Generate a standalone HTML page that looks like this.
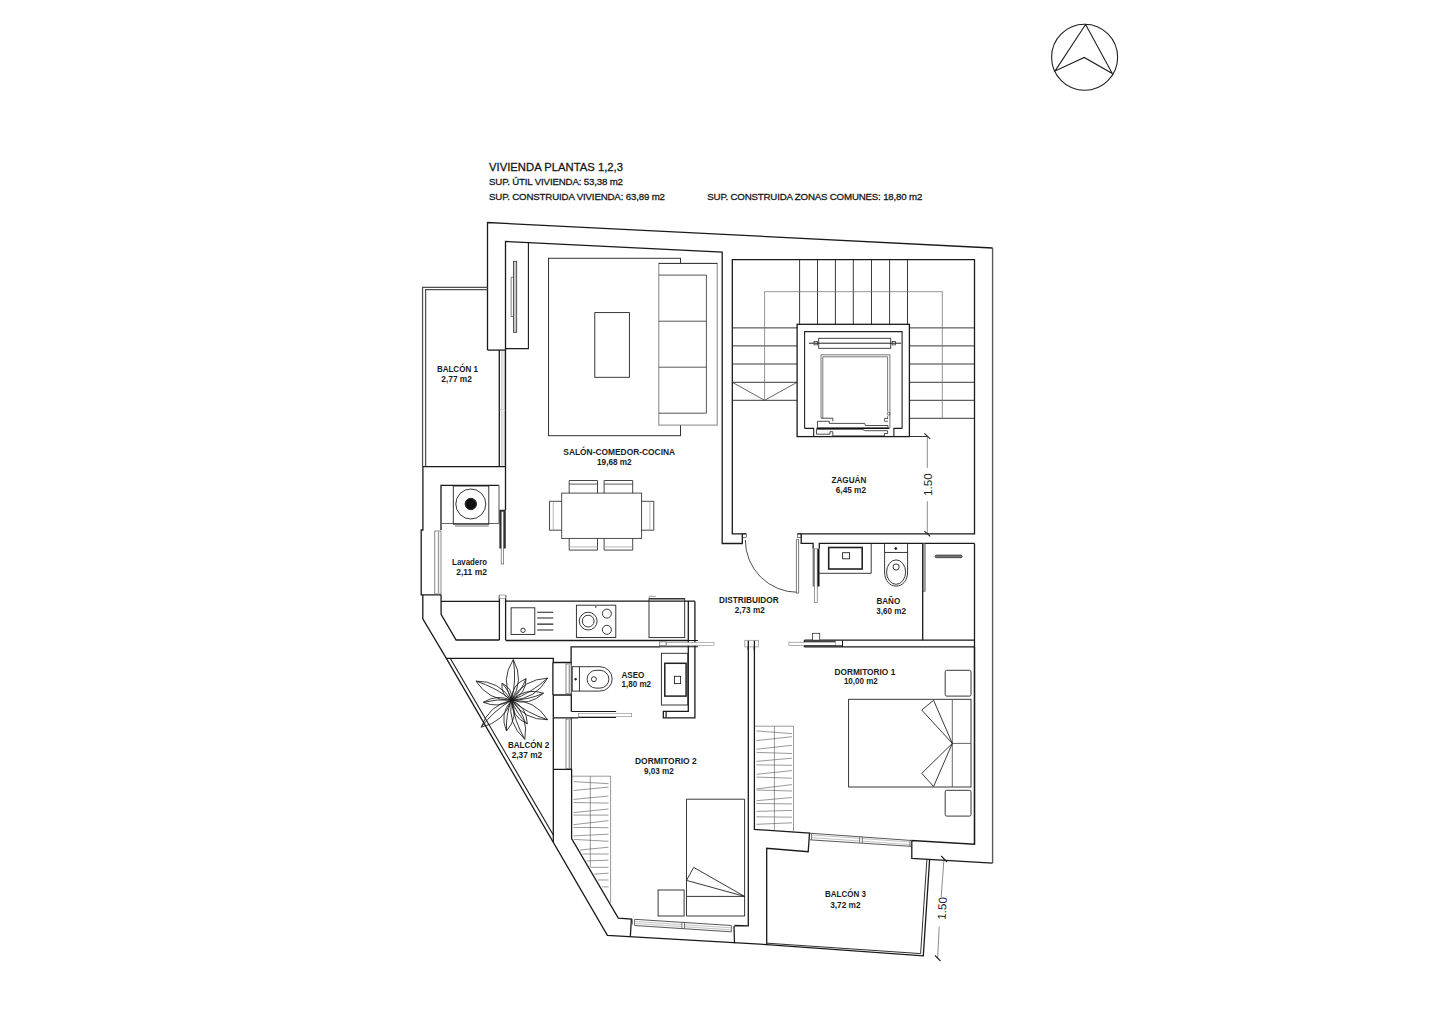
<!DOCTYPE html>
<html><head><meta charset="utf-8">
<style>
html,body{margin:0;padding:0;background:#fff;width:1440px;height:1024px;overflow:hidden}
svg{display:block}
text{font-family:"Liberation Sans",sans-serif;fill:#1b1b1b}
</style></head>
<body>
<svg width="1440" height="1024" viewBox="0 0 1440 1024">
<rect width="1440" height="1024" fill="#fff"/>

<!-- North arrow -->
<g fill="none" stroke="#1e1e1e" stroke-width="1.1">
<circle cx="1084.6" cy="57.3" r="33"/>
<path d="M1055.1,70.9 L1085.6,24.5 L1112.3,73.6 L1084.2,57.4 Z" stroke-linejoin="miter"/>
</g>

<!-- Title -->
<g stroke="#111" stroke-width="0.28" fill="#111">
<text x="489" y="170.6" font-size="11.4" textLength="134" lengthAdjust="spacingAndGlyphs">VIVIENDA PLANTAS 1,2,3</text>
<text x="489" y="185.2" font-size="9.7" textLength="134" lengthAdjust="spacing">SUP. ÚTIL VIVIENDA: 53,38 m2</text>
<text x="489" y="199.7" font-size="9.7" textLength="176" lengthAdjust="spacing">SUP. CONSTRUIDA VIVIENDA: 63,89 m2</text>
<text x="707.3" y="199.7" font-size="9.7" textLength="215" lengthAdjust="spacing">SUP. CONSTRUIDA ZONAS COMUNES: 18,80 m2</text>
</g>

<!-- WALLS -->
<g id="walls" fill="none" stroke="#1a1a1a" stroke-width="1.3" stroke-linejoin="miter">
<!-- outer top and right -->
<path d="M487.5,350.1 V222.5 L992.6,248"/>
<path d="M992.6,248 V863.1" stroke="#5c5c5c" stroke-width="1.4"/>
<path d="M992.6,863.1 L911.8,858.3 V840.5 L974.5,844.2 V543.4"/>
<!-- living inner top -->
<path d="M505.5,350.1 V241.5 L722.2,252.2 V543.5 H742.3 V533.8 H746.2"/>
<path d="M487.5,350.1 H505.5"/>
<!-- stair / zaguan -->
<path d="M742.3,533.8 H732.3 V259.6 H974.5 V533.8 H797.6 M801.2,533.8 V543.4 H813.1 V548.8 M819.3,548.8 V543.4 H974.5"/>
<!-- window strip living/balcony1 -->
<path d="M499.3,350.1 V466.9 M505.5,350.1 V510"/>
<!-- balcony 1 -->
<path d="M505.5,466.7 H422.5" stroke="#1a1a1a"/>
<path d="M422.56,466 V287.4 H487.5 M425.6,466 V289.6 H487.5" stroke="#4f4f4f" stroke-width="1.25"/>
<!-- lavadero -->
<path d="M422.9,466.6 V530 H421.2 V594.8 H441.1 M441,530 V485.3 H499"/>
<path d="M499,485.3 V523.5 M441,523.5 H499" stroke="#666" stroke-width="1.1"/>
<!-- outer diagonal and bottom -->
<path d="M422.8,594.8 V618.9 L446.2,658.2 L607.4,935.4 L766.7,944.6 L923.3,955.8 L929.6,859.8"/>
<path d="M920.6,953.6 L926.9,859.6" stroke-width="0.9"/>
<path d="M767.1,943.2 L920.6,953.6" stroke-width="0.9"/>
<!-- balcony 2 railing -->
<path d="M450.2,658.2 L553.3,835" stroke-width="1.1"/>
<!-- kitchen counter / lav corner -->
<path d="M441.1,594.8 V614.4 L456.1,640 H499.4 M441.1,601.4 H499.4 M499.4,595 V640 M505.6,595 V640"/>
<path d="M505.6,601.2 H694.9 M505.6,640.5 H688.3 M660,646.8 H571.1 V662.5 H552.9 M694.9,601.2 V717.8 H663.3 V711.4 H688.3 V601.2"/>
<!-- balcony 2 / aseo wall -->
<path d="M446.2,658.4 H553.3 V662.5 M552.9,662.5 V695 M553.3,695 V842 M552.9,695 H571.3 V711.5 M553.3,717.9 H578.3 M553.3,769.3 H571.6 V838.6 L618.3,918.2 L631.4,919 L630.3,937 M734,926 L734.5,943.2 M734.5,925.5 L748.3,925.8 V640.7 M754.4,640.7 V829.4 L809.5,833.2 L808.2,851.7 L766.7,848.3 V944.6"/>
<path d="M571.3,662.5 V695 M571.5,717.9 V769.3" stroke-width="0.9"/>
<!-- dorm 1 -->
<path d="M804.4,640.2 H974.5 M804.4,646.9 H974.5 M804.4,640.2 V646.9 M974.5,646.9 V844.2"/>
<path d="M922.7,543.4 V640.2"/>
<!-- window dorm1 -> balcony 3 -->
<path d="M809.5,833.2 L911.8,840.5 M809.5,839.8 L911.8,846.4" stroke-width="0.9" stroke="#444"/>
<path d="M811.5,835 L859.7,838.4 M811.5,837.6 L859.7,841 M862.3,838.6 L910,842 M862.3,841.2 L910,844.6" stroke-width="0.6" stroke="#999"/>
<path d="M859.7,836.6 V842.8 M862.3,836.8 V843 M811.5,833.4 V840 M910,840.4 V846.3" stroke-width="0.8" stroke="#555"/>
<!-- window dorm2 bottom -->
<path d="M634.5,919.3 L731.4,925.5 M634.5,925.5 L731.4,931.8" stroke-width="0.9" stroke="#444"/>
<path d="M634.5,921.5 L681.9,924.5 M634.5,923.5 L681.9,926.5 M684.5,924.8 L731.4,927.8 M684.5,926.8 L731.4,929.8" stroke-width="0.6" stroke="#999"/>
<path d="M632.4,919.1 V924.5 M634.5,919.3 V925.5 M681.9,922.3 V928.5 M684.5,922.5 V928.7 M731.4,925.5 V931.8" stroke-width="0.8" stroke="#555"/>
</g>
<!-- west windows -->
<g fill="#fff" stroke="#555" stroke-width="0.7">
<rect x="566" y="664" width="5.1" height="29.8"/>
<rect x="566" y="719.1" width="5.1" height="49.5"/>
<rect x="434.8" y="531" width="6.2" height="63"/>
</g>
<g fill="none" stroke="#999" stroke-width="1.3">
<path d="M569.3,665 V693 M569.3,720 V768 M438.5,532 V593"/>
</g>
<!-- FURNITURE -->
<g id="furn" fill="none" stroke="#222" stroke-width="0.9">
<!-- living rug, coffee table -->
<rect x="548.5" y="258.3" width="132" height="177.4" stroke="#333" stroke-width="1"/>
<rect x="594.8" y="312.6" width="34.6" height="64.7"/>
<!-- sofa -->
<rect x="658.8" y="263.4" width="58.4" height="161.7" fill="#fff" stroke="#777" stroke-width="0.9"/>
<path d="M658.8,275.1 H706.4 V413.2 H658.8 M658.8,321.2 H706.4 M658.8,367.2 H706.4" stroke="#444"/>
<path d="M658.8,263.4 H717.2" stroke="#333" stroke-width="1"/>
<!-- tv/shelf unit -->
<path d="M505.5,348.6 H528.4 V242.6" stroke="#1a1a1a" stroke-width="1.1"/>
<rect x="513.4" y="261.3" width="3.3" height="71" stroke="#333" fill="#c8c8c8" stroke-width="0.8"/>
<path d="M513.4,316.5 H511.1 V277.3 H513.4" stroke="#444" stroke-width="0.7"/>
<!-- window strip glass -->
<path d="M501.9,351 V409 M504.2,351 V409 M501.9,411 V466 M504.2,411 V466 M499.3,409.8 H505.5" stroke="#888" stroke-width="0.6"/>
<!-- dining -->
<rect x="561.7" y="493.1" width="79.9" height="45.3" stroke="#3a3a3a"/>
<path d="M569.2,493.1 V480.5 H597.5 V493.1 M604.1,493.1 V480.5 H632.7 V493.1 M569.2,538.4 V550.1 H597.5 V538.4 M604.1,538.4 V550.1 H632.7 V538.4 M561.7,501.3 H549.5 V530.2 H561.7 M641.6,501.3 H653.8 V530.2 H641.6" stroke="#333"/>
<path d="M569.2,484.1 H597.5 M604.1,484.1 H632.7" stroke="#333" stroke-width="0.8"/>
<path d="M569.2,546.9 H597.5 M604.1,546.9 H632.7 M553.2,501.3 V530.2 M649.9,501.3 V530.2" stroke="#999" stroke-width="0.7"/>
<!-- washing machine -->
<rect x="453.3" y="486" width="35.5" height="38.2"/>
<circle cx="470.8" cy="504" r="15"/>
<circle cx="470.8" cy="504" r="5.7" fill="#111"/>
<path d="M455,526 H488.8" stroke="#666"/>
<!-- lavadero door -->
<rect x="499.9" y="510.2" width="5.3" height="37.8" fill="#3a3a3a" stroke="#1a1a1a" stroke-width="0.9"/>
<rect x="501.2" y="511.5" width="2.5" height="52.5" fill="#fff" stroke="#444" stroke-width="0.6"/>
<!-- sink kitchen -->
<rect x="511.1" y="607.8" width="23.7" height="26.6"/>
<circle cx="523" cy="630.3" r="2.2"/>
<path d="M537.2,612.2 H553.3 M537.2,618 H553.3 M537.2,624.1 H553.3 M537.2,630 H553.3" stroke-width="1.1"/>
<!-- cooktop -->
<rect x="576.4" y="605.2" width="39.4" height="32.3"/>
<circle cx="588.2" cy="621.1" r="8.9"/>
<circle cx="588.2" cy="621.1" r="5.9"/>
<circle cx="606.9" cy="613.6" r="4.5"/>
<circle cx="606.9" cy="629.8" r="4.5"/>
<rect x="595" y="606.4" width="1.6" height="1.1" fill="#222" stroke="none"/>
<!-- fridge -->
<rect x="649" y="598.6" width="35.7" height="39"/>
<path d="M649.3,598.8 H684.7" stroke="#333" stroke-width="1.6"/>
<path d="M649.3,598 V596.3 H655.6" stroke="#777" stroke-width="0.7"/>
<!-- aseo toilet -->
<rect x="572.2" y="666.7" width="7.2" height="24.4"/>
<circle cx="575.6" cy="679.2" r="0.9" fill="#111"/>
<path d="M579.4,666.7 H600 A12.2,12.2 0 0 1 600,691.1 H579.4"/>
<path d="M596,670.3 H600 A8.9,8.9 0 0 1 600,688.1 H596 A8.9,8.9 0 0 1 596,670.3 Z"/>
<circle cx="593.9" cy="679.2" r="2.5"/>
<!-- aseo sink -->
<rect x="661.4" y="653.3" width="26.4" height="51.7"/>
<rect x="664.8" y="663.3" width="21.3" height="32.8" stroke-width="1.5"/>
<rect x="674.4" y="676.3" width="6.2" height="7.3"/>
<!-- baño sink -->
<path d="M819.3,573.3 H871.2 V543.4"/>
<rect x="828.7" y="547.5" width="33.5" height="21.5" stroke-width="1.6"/>
<rect x="842.6" y="552.7" width="7" height="6.1"/>
<!-- baño toilet -->
<rect x="884.6" y="543.4" width="23" height="9"/>
<circle cx="895.8" cy="548.5" r="1" fill="#111"/>
<path d="M884.6,552.4 V572 C884.6,581 890,586.1 896.1,586.1 C902.2,586.1 907.6,581 907.6,572 V552.4"/>
<ellipse cx="896.1" cy="572.1" rx="9.5" ry="12.2"/>
<circle cx="896.1" cy="567" r="3.1"/>
<!-- closet rod -->
<rect x="935.1" y="555.1" width="27" height="2.6" rx="1.2" fill="#777" stroke="#222" stroke-width="0.7"/>
<!-- beds dorm 1 -->
<rect x="848.6" y="699.3" width="122.4" height="87.7"/>
<path d="M952.3,699.3 V787 M952.3,743.4 H971" stroke="#555"/>
<path d="M921.7,710 L933.6,700.3 L952.3,743.4 L921.7,710 M921.7,773.4 L933.6,786.5 L952.3,743.4 Z"/>
<rect x="945.2" y="670.3" width="25.8" height="25.8" rx="1.5"/>
<rect x="945.2" y="790.3" width="25.8" height="25.8" rx="1.5"/>
<!-- bed dorm 2 -->
<path d="M686.5,916 V799.2 H744.6 V916 M686.5,896.4 H744.9 M686.5,880.4 L693.7,867.4 L744.6,896.4 Z M686.5,916 H744.9"/>
<rect x="658.1" y="890" width="26" height="26"/>
<!-- DOORS -->
<!-- zaguan swing door -->
<path d="M745.3,540 A52.3,52.3 0 0 0 797.6,592.3" stroke-width="0.8"/>
<path d="M796.4,539.5 V593.2 H798.6 V539.5 Z" stroke-width="0.6" fill="#fff"/>
<rect x="742.3" y="533.8" width="3.9" height="3.5" stroke-width="0.6"/>
<rect x="797.6" y="533.8" width="3.6" height="3.5" stroke-width="0.6"/>
<!-- baño sliding -->
<rect x="812.6" y="548.8" width="1.8" height="37.7" fill="#777" stroke="none"/>
<rect x="817.2" y="548.8" width="2.3" height="37.7" fill="#111" stroke="none"/>
<rect x="814.4" y="548.8" width="2.8" height="53.6" fill="#fff" stroke="#555" stroke-width="0.6"/>
<!-- dorm1 sliding -->
<rect x="788.9" y="642.2" width="46.7" height="3.4" fill="#fff" stroke="#777" stroke-width="0.6"/>
<rect x="812.5" y="633.3" width="7.2" height="6.9" fill="#fff" stroke="#333" stroke-width="0.8"/>
<path d="M804.4,641.3 H835.6 M804.4,645.8 H842.5 M842.5,640.2 V646.9" stroke="#1a1a1a" stroke-width="1"/>
<!-- kitchen/aseo sliding -->
<rect x="666.7" y="642.3" width="47.3" height="3.2" fill="#fff" stroke="#888" stroke-width="0.6"/>
<rect x="659.5" y="641.9" width="6.5" height="3.8" fill="#fff" stroke="#555" stroke-width="0.6"/>
<path d="M660,646.8 H697.9 M688.3,640.5 H697.9" stroke="#1a1a1a" stroke-width="1.1"/>
<!-- aseo bottom sliding -->
<path d="M571.3,711.5 H616.1 M578.3,717.5 H616.1 M666.1,711.4 V717.8" stroke="#1a1a1a" stroke-width="1.2"/>
<rect x="578.3" y="713.3" width="53.4" height="3.4" fill="#fff" stroke="#888" stroke-width="0.6"/>
<!-- closet sliding -->
<rect x="923.1" y="543.4" width="2" height="47.8" fill="#bbb" stroke="#333" stroke-width="0.6"/>
<!-- kitchen post cap -->
<rect x="499.4" y="595" width="6.2" height="3.3" fill="#fff" stroke="#888" stroke-width="0.7"/>
<!-- dist post cap -->
<rect x="744.8" y="640.3" width="13.5" height="6.6" fill="#fff" stroke="#888" stroke-width="0.7"/>
<path d="M748.3,640.7 V650 M754.4,640.7 V650" stroke="#1a1a1a" stroke-width="1.3"/>
</g>
<!-- STAIRS -->
<g id="stairs" fill="none" stroke="#222" stroke-width="0.9">
<path d="M799.6,259.6 V324.3 M817.5,259.6 V324.3 M835.4,259.6 V324.3 M853.3,259.6 V324.3 M871.5,259.6 V324.3 M889.6,259.6 V324.3 M907.5,259.6 V324.3"/>
<path d="M732.3,327.9 H797.1 M732.3,345.9 H797.1 M732.3,364 H797.1 M732.3,382.3 H797.1 M732.3,400.3 H797.1"/>
<path d="M909.4,327.9 H974.7 M909.4,345.9 H974.7 M909.4,364 H974.7 M909.4,382.3 H974.7 M909.4,400.3 H974.7 M909.4,418.3 H974.7"/>
<path d="M732.3,382.3 L764.6,400.3 L797.1,382.3" stroke-width="0.7"/>
<path d="M764.6,400.3 V291.7 H942.3 V418.3" stroke="#777" stroke-width="0.8"/>
<!-- elevator shaft -->
<rect x="797.1" y="324.3" width="112.3" height="112.3" stroke="#1a1a1a" stroke-width="1.3"/>
<path d="M804.6,428.4 V331.6 H902.1 V428.4" stroke-width="1.1"/>
<rect x="818.7" y="338.3" width="72" height="10" stroke="#333"/>
<path d="M808.9,343.2 H901.1" stroke-width="1"/>
<rect x="814" y="341.5" width="3.4" height="3.4" stroke-width="0.7"/>
<rect x="892.1" y="341.5" width="3.4" height="3.4" stroke-width="0.7"/>
<path d="M821,354.8 H889.9 V428 M821,418.2 V354.8 M822.8,418.2 V356.8 H887.6 V411.5 M887.6,415.8 V418.4" stroke="#555" stroke-width="0.8"/>
<circle cx="888.6" cy="413.7" r="1.5" stroke-width="0.6"/>
<path d="M821,418.2 H832.8 V421.3 M884.5,418.4 H888" stroke="#222" stroke-width="0.8"/>
<path d="M817.5,421.3 H829.3 V423.4 H864.7 L865.4,425.5 H888 V427.9 H817.5 Z" stroke="#222" stroke-width="0.8"/>
<path d="M884.5,418.4 V421.3 H888" stroke="#222" stroke-width="0.7"/>
<path d="M816.5,428.3 H889.5" stroke="#111" stroke-width="1.3"/>
<path d="M816.5,429.3 H861.9 L865.4,430.7 H887.6 V433.5 H884.5 V435.9 H832.8 V431.7 H830 V434.2 H816.5 Z" stroke="#222" stroke-width="0.8"/>
<path d="M804.6,428.4 H813.7 V436.6 M902.1,428.4 H893.9 V436.6" stroke="#1a1a1a" stroke-width="1.1"/>
</g>
<!-- LABELS -->
<g id="labels" font-size="8.2" font-weight="bold">
<text x="436.9" y="371.9" textLength="41" lengthAdjust="spacingAndGlyphs">BALCÓN 1</text>
<text x="441.3" y="381.7" textLength="30.6" lengthAdjust="spacingAndGlyphs">2,77 m2</text>
<text x="563.3" y="454.6" textLength="111.8" lengthAdjust="spacingAndGlyphs">SALÓN-COMEDOR-COCINA</text>
<text x="597" y="464.6" textLength="34.7" lengthAdjust="spacingAndGlyphs">19,68 m2</text>
<text x="831.5" y="482.5" textLength="34.8" lengthAdjust="spacingAndGlyphs">ZAGUÁN</text>
<text x="835.8" y="492.7" textLength="30.2" lengthAdjust="spacingAndGlyphs">6,45 m2</text>
<text x="452.1" y="564.8" textLength="35" lengthAdjust="spacingAndGlyphs">Lavadero</text>
<text x="456.3" y="574.8" textLength="30.6" lengthAdjust="spacingAndGlyphs">2,11 m2</text>
<text x="719" y="603.3" textLength="59.7" lengthAdjust="spacingAndGlyphs">DISTRIBUIDOR</text>
<text x="734.8" y="613" textLength="29.9" lengthAdjust="spacingAndGlyphs">2,73 m2</text>
<text x="876.5" y="603.5" textLength="23.7" lengthAdjust="spacingAndGlyphs">BAÑO</text>
<text x="876.3" y="613.5" textLength="29.6" lengthAdjust="spacingAndGlyphs">3,60 m2</text>
<text x="834.4" y="674.6" textLength="60.9" lengthAdjust="spacingAndGlyphs">DORMITORIO 1</text>
<text x="843.9" y="683.8" textLength="33.9" lengthAdjust="spacingAndGlyphs">10,00 m2</text>
<text x="621.4" y="677.8" textLength="23" lengthAdjust="spacingAndGlyphs">ASEO</text>
<text x="621.4" y="687.4" textLength="29.7" lengthAdjust="spacingAndGlyphs">1,80 m2</text>
<text x="507.9" y="747.8" textLength="41.3" lengthAdjust="spacingAndGlyphs">BALCÓN 2</text>
<text x="511.7" y="757.7" textLength="30.5" lengthAdjust="spacingAndGlyphs">2,37 m2</text>
<text x="635" y="763.8" textLength="61.7" lengthAdjust="spacingAndGlyphs">DORMITORIO 2</text>
<text x="643.9" y="773.6" textLength="30" lengthAdjust="spacingAndGlyphs">9,03 m2</text>
<text x="825" y="897.1" textLength="41" lengthAdjust="spacingAndGlyphs">BALCÓN 3</text>
<text x="830.2" y="908.1" textLength="30.4" lengthAdjust="spacingAndGlyphs">3,72 m2</text>
</g>
<!-- DIMENSIONS -->
<g id="dims" fill="none" stroke="#666" stroke-width="0.75">
<path d="M909.4,436.5 H927.3" stroke="#333" stroke-width="1"/>
<path d="M927.3,436.4 V467.8 M927.3,501.2 V533.5"/>
<path d="M924.4,433.4 L930.2,438.8 M924.4,531.2 L930.2,536.4" stroke="#222" stroke-width="1.1"/>
<text x="0" y="0" font-size="11.5" fill="#5a5a5a" stroke="none" textLength="22.9" lengthAdjust="spacingAndGlyphs" transform="translate(932,496) rotate(-90)">1.50</text>
<path d="M944,858.8 L941.2,897 M939.2,926.5 L937.7,958.1"/>
<path d="M941.2,856 L947,862 M935,955.5 L940.5,961" stroke="#222" stroke-width="1.1"/>
<text x="0" y="0" font-size="11.5" fill="#5a5a5a" stroke="none" textLength="22.9" lengthAdjust="spacingAndGlyphs" transform="translate(945.5,920) rotate(-86.4)">1.50</text>
</g>
<!-- PLANT & WARDROBES -->
<g fill="none" stroke="#1a1a1a" stroke-width="0.85" stroke-linejoin="round">
<path d="M511.5,700.2 Q524.6,680.4 513.3,659.6 Q500.2,679.4 511.5,700.2 M511.5,700.2 Q516.7,680.1 513.3,659.6"/>
<path d="M511.5,700.2 Q499.1,680.7 476.0,681.1 Q488.4,700.6 511.5,700.2 M511.5,700.2 Q495.6,687.2 476.0,681.1"/>
<path d="M511.5,700.2 Q512.9,688.3 502.0,683.2 Q500.6,695.1 511.5,700.2 M511.5,700.2 Q508.9,690.5 502.0,683.2"/>
<path d="M511.5,700.2 Q526.1,694.4 526.0,678.7 Q511.4,684.5 511.5,700.2 M511.5,700.2 Q521.3,691.2 526.0,678.7"/>
<path d="M511.5,700.2 Q535.7,699.3 547.6,678.2 Q523.4,679.1 511.5,700.2 M511.5,700.2 Q531.7,692.7 547.6,678.2"/>
<path d="M511.5,700.2 Q529.6,706.3 543.5,693.2 Q525.4,687.1 511.5,700.2 M511.5,700.2 Q528.2,700.1 543.5,693.2"/>
<path d="M511.5,700.2 Q496.9,693.9 483.3,702.3 Q497.9,708.6 511.5,700.2 M511.5,700.2 Q497.2,698.7 483.3,702.3"/>
<path d="M511.5,700.2 Q524.1,720.1 547.6,719.7 Q535.0,699.8 511.5,700.2 M511.5,700.2 Q527.6,713.5 547.6,719.7"/>
<path d="M511.5,700.2 Q488.8,705.2 481.2,727.2 Q503.9,722.2 511.5,700.2 M511.5,700.2 Q493.7,710.7 481.2,727.2"/>
<path d="M511.5,700.2 Q499.1,714.0 506.5,731.0 Q518.9,717.2 511.5,700.2 M511.5,700.2 Q505.6,715.0 506.5,731.0"/>
<path d="M511.5,700.2 Q507.2,723.5 524.8,739.3 Q529.1,716.0 511.5,700.2 M511.5,700.2 Q514.3,721.1 524.8,739.3"/>
<path d="M511.5,700.2 Q511.8,717.1 527.3,723.9 Q527.0,707.0 511.5,700.2 M511.5,700.2 Q516.7,713.8 527.3,723.9"/>
</g>
<g fill="none" stroke="#555" stroke-width="0.6">
<path d="M571.6,776.2 H610.6 V902.6 M590.3,776.2 V867" stroke="#555"/>
<path d="M573.5,781.6 L608.5,783.7"/>
<path d="M573.5,790.5 L608.5,787.1"/>
<path d="M573.5,799.4 L608.5,796.0"/>
<path d="M573.5,802.5 L608.5,803.1"/>
<path d="M573.5,812.6 L608.5,809.0"/>
<path d="M573.5,815.1 L608.5,815.1"/>
<path d="M573.5,824.7 L608.5,820.6"/>
<path d="M573.5,827.4 L608.5,827.7"/>
<path d="M573.5,835.9 L608.5,834.2"/>
<path d="M573.8,839.4 L608.5,841.3"/>
<path d="M580.1,850.0 L608.5,847.2"/>
<path d="M582.5,854.0 L608.5,854.0"/>
<path d="M586.6,860.9 L608.5,860.2"/>
<path d="M590.4,867.3 L608.5,867.3"/>
<path d="M594.4,874.1 L608.5,873.2"/>
<path d="M598.0,880.0 L608.5,880.0"/>
<path d="M602.1,886.9 L608.5,886.9"/>
<path d="M754.4,726.2 H793.5 V831.5 M774.4,726.2 V830.5" stroke="#555"/>
<path d="M756.5,730.9 L792,733.7"/>
<path d="M756.5,740.6 L792,736.7"/>
<path d="M756.5,749.2 L792,745.3"/>
<path d="M756.5,752.4 L792,753.5"/>
<path d="M756.5,761.4 L792,758.2"/>
<path d="M756.5,764.9 L792,765.3"/>
<path d="M756.5,774.3 L792,770.6"/>
<path d="M756.5,777.1 L792,778.2"/>
<path d="M756.5,788.9 L792,784.6"/>
<path d="M756.5,790.0 L792,791.0"/>
<path d="M756.5,800.7 L792,797.5"/>
<path d="M756.5,803.5 L792,803.9"/>
<path d="M756.5,811.4 L792,810.4"/>
<path d="M756.5,816.8 L792,817.2"/>
<path d="M756.5,824.3 L792,822.8"/>
</g>
</svg>
</body></html>
